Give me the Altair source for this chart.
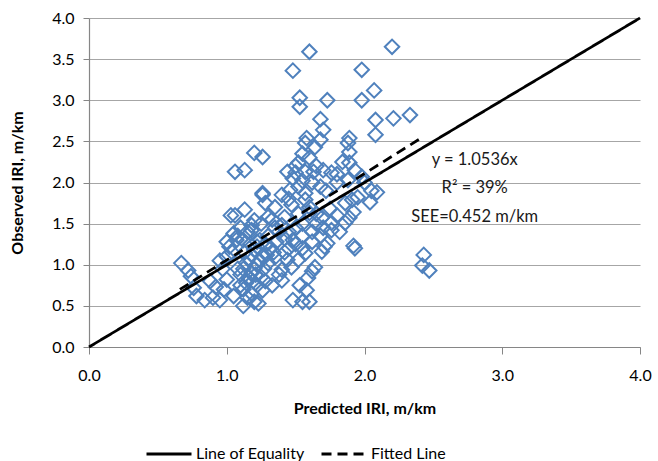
import altair as alt
import pandas as pd

FONT = "Lato"

# Observed vs predicted IRI (m/km)
pred = [
    # lower-left part
    0.67, 0.72, 0.74, 0.76, 0.78, 0.84, 0.90, 0.95, 0.92, 0.97, 0.95, 1.00, 1.02, 1.03, 1.05, 1.07,
    1.08, 1.00, 1.05, 1.10, 0.88, 1.00, 1.04, 0.98,
    # upper-left of the cluster
    1.06, 1.13, 1.20, 1.26, 1.26, 1.06, 1.13, 1.20, 1.10, 1.15, 1.08, 1.12, 1.18, 1.22,
    # main mass
    1.12, 1.15, 1.18, 1.20, 1.23, 1.26, 1.12, 1.14, 1.16, 1.18, 1.20, 1.22, 1.24, 1.26, 1.12, 1.14,
    1.16, 1.18, 1.20, 1.22, 1.24, 1.28, 1.30, 1.32, 1.34, 1.30, 1.35, 1.40, 1.40, 1.38, 1.33, 1.28,
    1.25, 1.22, 1.10, 1.13, 1.17, 1.19, 1.21, 1.27, 1.29, 1.36, 1.38, 1.42, 1.44, 1.47, 1.52, 1.53,
    1.48, 1.58, 1.60, 1.59, 1.64, 1.57, 1.69, 1.71, 1.73, 1.76, 1.86, 1.93, 1.55, 1.62,
    # middle band
    1.28, 1.35, 1.30, 1.42, 1.47, 1.57, 1.60, 1.69, 1.76, 1.86, 1.91, 1.92, 1.89, 1.50, 1.55, 1.45,
    1.40, 1.35, 1.48, 1.55, 1.62, 1.65, 1.68, 1.80, 1.95, 2.04, 1.52, 1.60, 1.65, 1.45, 1.50, 1.62,
    1.55, 1.42, 1.75, 1.82, 1.70, 1.33, 1.25, 1.18,
    # upper-middle band
    1.44, 1.50, 1.57, 1.63, 1.70, 1.76, 1.84, 1.89, 1.52, 1.57, 1.64, 1.46, 1.52, 1.57, 1.26, 1.88,
    1.89, 1.93, 1.88, 1.98, 2.00, 2.09, 1.48, 1.55, 1.62, 1.68, 1.72, 1.80, 1.60, 1.55, 1.50, 1.65,
    1.80, 1.40, 1.45, 2.05,
    # top scatter
    1.60, 1.48, 1.53, 1.53, 1.73, 1.98, 2.20, 1.98, 2.07, 1.68, 1.70, 1.58, 1.68, 2.08, 2.08, 2.21,
    2.33, 1.89,
    # lower-right outliers
    1.92, 2.43, 2.42, 2.47,
]
obs = [
    1.02, 0.93, 0.86, 0.72, 0.62, 0.57, 0.60, 0.57, 0.73, 0.95, 1.05, 1.28, 1.22, 1.60, 1.38, 1.30,
    0.95, 0.82, 0.62, 0.75, 0.80, 1.10, 1.15, 0.70,
    2.13, 2.15, 2.36, 2.31, 1.87, 1.60, 1.67, 1.54, 1.45, 1.40, 1.35, 1.30, 1.42, 1.28,
    0.50, 0.60, 0.65, 0.55, 0.53, 0.69, 0.70, 0.78, 0.85, 0.90, 0.95, 1.00, 1.05, 1.10, 0.95, 1.02,
    1.08, 1.12, 1.18, 1.22, 1.30, 1.25, 1.35, 1.20, 1.15, 1.02, 1.09, 0.94, 0.81, 0.88, 0.75, 0.80,
    0.85, 0.75, 0.88, 1.15, 1.25, 0.80, 0.88, 0.95, 1.12, 1.28, 1.40, 1.32, 1.06, 0.97, 1.06, 0.75,
    0.57, 0.69, 0.55, 0.84, 0.97, 1.14, 1.16, 1.22, 1.26, 1.42, 1.51, 1.20, 0.55, 0.92,
    1.75, 1.70, 1.58, 1.58, 1.73, 1.79, 1.63, 1.57, 1.51, 1.75, 1.79, 1.64, 1.57, 1.45, 1.50, 1.40,
    1.48, 1.45, 1.30, 1.35, 1.40, 1.50, 1.35, 1.60, 1.82, 1.76, 1.62, 1.70, 1.62, 1.20, 1.25, 1.28,
    1.20, 1.15, 1.68, 1.40, 1.45, 1.55, 1.50, 1.48,
    2.13, 2.12, 2.13, 2.13, 2.15, 2.12, 2.25, 2.37, 2.24, 2.48, 2.43, 1.91, 1.95, 1.87, 1.85, 2.48,
    2.24, 2.15, 2.03, 2.07, 2.00, 1.88, 2.05, 2.02, 2.00, 1.95, 1.90, 2.00, 2.30, 2.35, 2.20, 2.20,
    2.10, 1.85, 1.80, 1.90,
    3.59, 3.36, 3.03, 2.92, 3.00, 3.37, 3.65, 3.00, 3.12, 2.77, 2.64, 2.54, 2.52, 2.76, 2.58, 2.78,
    2.82, 2.54,
    1.23, 1.12, 0.99, 0.93,
]

line_names = ["Line of Equality", "Fitted Line"]
eq_x = [0.0, 4.0]
eq_y = [0.0, 4.0]
fit_x = [0.66, 2.43]
fit_y = [0.70, 2.56]

ann_text = ["y = 1.0536x", "R² = 39%", "SEE=0.452 m/km"]
ann_x = [2.80, 2.80, 2.80]
ann_y = [2.27, 1.93, 1.58]

x_ticks = [0, 1, 2, 3, 4]
y_ticks = [0, 0.5, 1, 1.5, 2, 2.5, 3, 3.5, 4]

pts = pd.DataFrame({"pred": pred, "obs": obs})
lines = pd.DataFrame({
    "x": eq_x + fit_x,
    "y": eq_y + fit_y,
    "series": [line_names[0]] * 2 + [line_names[1]] * 2,
})
ann = pd.DataFrame({"x": ann_x, "y": ann_y, "t": ann_text})

xscale = alt.Scale(domain=[0, 4], nice=False, zero=False)
yscale = alt.Scale(domain=[0, 4], nice=False, zero=False)

points = alt.Chart(pts).mark_point(
    shape="diamond", filled=False, size=210, strokeWidth=2, color="#4F81BD", opacity=1
).encode(
    x=alt.X("pred:Q", scale=xscale,
            axis=alt.Axis(values=x_ticks, format=".1f", grid=False, title="Predicted IRI, m/km",
                          tickSize=7, labelPadding=13, titlePadding=17, labelFlush=False)),
    y=alt.Y("obs:Q", scale=yscale,
            axis=alt.Axis(values=y_ticks, format=".1f", grid=True, title="Observed IRI, m/km",
                          tickSize=6, labelPadding=9, titlePadding=26, labelFlush=False)),
)

line_layer = alt.Chart(lines).mark_line(strokeWidth=2.8, color="black").encode(
    x="x:Q",
    y="y:Q",
    strokeDash=alt.StrokeDash(
        "series:N",
        sort=line_names,
        scale=alt.Scale(domain=line_names, range=[[1, 0], [10, 6]]),
        legend=alt.Legend(
            title=None, orient="none", direction="horizontal", legendX=56, legendY=412,
            symbolType="stroke", symbolSize=2025, symbolStrokeWidth=3, symbolStrokeColor="black",
            labelFontSize=16, labelFont=FONT, labelColor="black", columnPadding=10,
            labelOffset=3,
        ),
    ),
)

text_layer = alt.Chart(ann).mark_text(
    fontSize=16.5, font=FONT, color="#1a1a1a", align="center", baseline="middle"
).encode(x="x:Q", y="y:Q", text="t:N")

chart = alt.layer(points, line_layer, text_layer).properties(
    width=551, height=329,
    autosize=alt.AutoSizeParams(type="none"),
    padding={"left": 89, "top": 18, "right": 18, "bottom": 114},
).configure_view(stroke=None).configure_axis(
    labelFont=FONT, titleFont=FONT, labelFontSize=16, titleFontSize=16,
    labelColor="black", titleColor="black", titleFontWeight="bold",
    domainColor="#868686", tickColor="#868686", gridColor="#a6a6a6", gridWidth=1.2,
    domainWidth=1.2,
)

chart.save("out.html", embed_options={"renderer": "svg", "actions": False})
